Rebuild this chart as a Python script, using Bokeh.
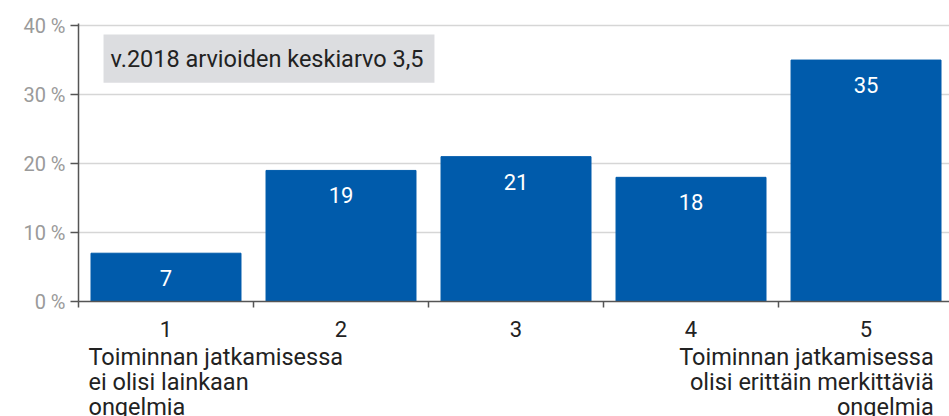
from bokeh.plotting import figure
from bokeh.models import Range1d, FixedTicker, CustomJSTickFormatter, Label, BoxAnnotation, ColumnDataSource
from bokeh.core.properties import value
from bokeh.embed import file_html
from bokeh.resources import INLINE

categories = [1, 2, 3, 4, 5]
tick_labels = ["1", "2", "3", "4", "5"]
values = [7, 19, 21, 18, 35]
bar_labels = ["7", "19", "21", "18", "35"]
y_ticks = [0, 10, 20, 30, 40]
left_text = "Toiminnan jatkamisessa\nei olisi lainkaan\nongelmia"
right_text = "Toiminnan jatkamisessa\nolisi erittäin merkittäviä\nongelmia"
note_text = "v.2018 arvioiden keskiarvo 3,5"

FONT = "Roboto"
BLUE = "#005BAB"

p = figure(width=949, height=416, output_backend="svg", toolbar_location=None,
           x_range=Range1d(0.5, 5.477), y_range=Range1d(0, 40.3),
           min_border_left=78, min_border_right=0, min_border_top=23, min_border_bottom=115)
p.outline_line_color = None
p.background_fill_color = "white"
p.xgrid.grid_line_color = None
p.ygrid.grid_line_color = "#d6d6d6"
p.ygrid.grid_line_width = 1.5
p.ygrid.ticker = FixedTicker(ticks=y_ticks)

src = ColumnDataSource(dict(x=categories, top=values, lab=bar_labels))
p.vbar(x="x", top="top", width=0.857, source=src, color=BLUE)
p.text(x="x", y="top", text="lab", source=src, text_color="white",
       text_font=value(FONT), text_font_size="22px", text_align="center",
       text_baseline="top", y_offset=17)

# x axis
xa = p.xaxis[0]
xa.ticker = FixedTicker(ticks=categories, minor_ticks=[0.5, 1.5, 2.5, 3.5, 4.5, 5.5])
xa.major_label_overrides = {c: t for c, t in zip(categories, tick_labels)}
xa.major_tick_out = 0
xa.major_tick_in = 0
xa.minor_tick_out = 6
xa.minor_tick_in = 0
xa.minor_tick_line_color = "#555555"
xa.minor_tick_line_width = 1.5
xa.axis_line_color = "#555555"
xa.axis_line_width = 1.5
xa.major_label_text_font = FONT
xa.major_label_text_font_size = "22px"
xa.major_label_text_color = "#222222"
xa.major_label_standoff = 13

# y axis
ya = p.yaxis[0]
ya.ticker = FixedTicker(ticks=y_ticks)
ya.formatter = CustomJSTickFormatter(code="return tick + ' %';")
ya.axis_line_color = "#555555"
ya.axis_line_width = 1.5
ya.major_tick_line_color = "#555555"
ya.major_tick_line_width = 1.5
ya.major_tick_out = 8
ya.major_tick_in = 0
ya.minor_tick_line_color = None
ya.major_label_text_font = FONT
ya.major_label_text_font_size = "20px"
ya.major_label_text_color = "#9a9a9a"
ya.major_label_standoff = 5

# note box
p.add_layout(BoxAnnotation(left=0.643, right=2.534, bottom=31.7, top=38.7,
                           fill_color="#dcdde0", fill_alpha=1, line_color=None, level="underlay"))
p.add_layout(Label(x=0.683, y=35.1, text=note_text, text_font=FONT, text_font_size="23.5px",
                   text_color="#222222", text_baseline="middle", text_align="left"))

# category descriptions under the end categories (text glyphs on overlay level, not clipped)
desc = ColumnDataSource(dict(x=[0.557, 5.387], y=[-5.95, -5.95], t=[left_text, right_text],
                             align=["left", "right"]))
r = p.text(x="x", y="y", text="t", source=desc, text_font=value(FONT), text_font_size="23.5px",
           text_color="#222222", text_baseline="top", text_align="align", text_line_height=0.9)
r.level = "overlay"

open("out.html", "w").write(file_html(p, INLINE))
